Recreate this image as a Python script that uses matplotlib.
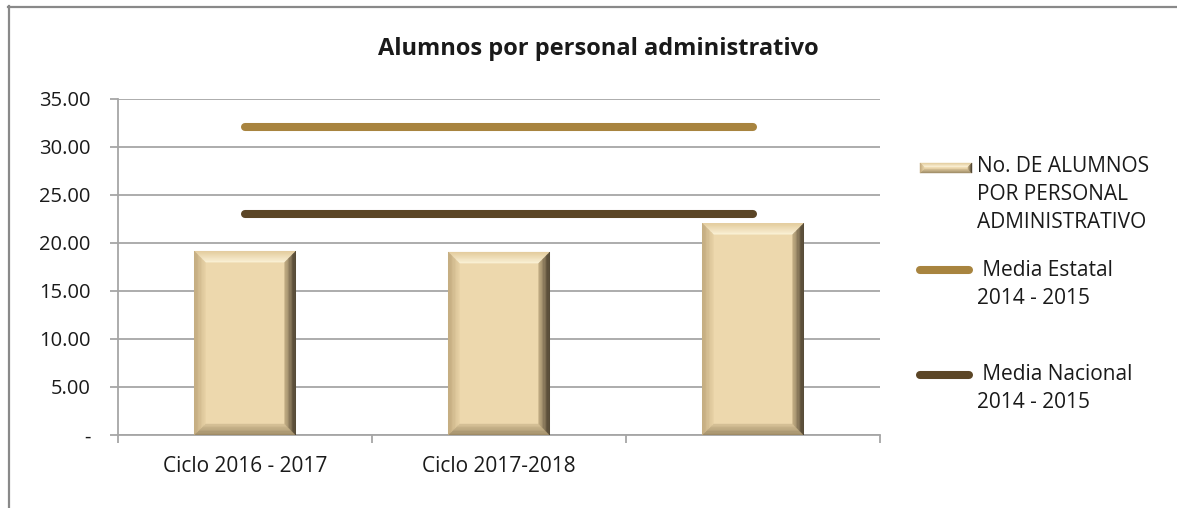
import numpy as np
import matplotlib
matplotlib.use("Agg")
import matplotlib.pyplot as plt
from matplotlib.patches import Polygon
from matplotlib.lines import Line2D
from matplotlib.transforms import IdentityTransform
from matplotlib.colors import to_rgb

plt.rcParams['font.family'] = ['Open Sans', 'DejaVu Sans']

# ---- data ----
categories = ["Ciclo 2016 - 2017", "Ciclo 2017-2018", ""]
alumnos_por_admin = [19.15, 19.05, 22.05]
media_estatal = [32.05, 32.05, 32.05]
media_nacional = [23.05, 23.05, 23.05]
y_ticks = [0, 5, 10, 15, 20, 25, 30, 35]
y_tick_labels = ["-", "5.00", "10.00", "15.00", "20.00", "25.00", "30.00", "35.00"]
legend_labels = [["No. DE ALUMNOS", "POR PERSONAL", "ADMINISTRATIVO"],
                 [" Media Estatal", "2014 - 2015"],
                 [" Media Nacional", "2014 - 2015"]]
title = "Alumnos por personal administrativo"

# ---- styles ----
face_col = "#EDD8AD"
estatal_col = "#A8843F"
nacional_col = "#5B4526"
grid_col = "#A6A6A6"
text_col = "#1a1a1a"
W, H = 1177, 508

fig = plt.figure(figsize=(W / 100, H / 100), dpi=100)
ax = fig.add_axes([118 / W, 1 - 435 / H, (880 - 118) / W, (435 - 99) / H])

x = np.arange(len(categories))
bars = ax.bar(x, alumnos_por_admin, width=0.4, color=face_col, zorder=2)
ax.plot(x, media_estatal, color=estatal_col, lw=5.8, solid_capstyle='round', zorder=3)
ax.plot(x, media_nacional, color=nacional_col, lw=5.8, solid_capstyle='round', zorder=3)

ax.set_xlim(-0.5, len(categories) - 0.5)
ax.set_ylim(0, 35)
ax.set_yticks(y_ticks)
ax.set_yticklabels(y_tick_labels, fontsize=14.5, color=text_col)
ax.yaxis.grid(True, color=grid_col, lw=1.3, zorder=0)
ax.set_axisbelow(True)

# category boundaries carry the tick marks, labels sit at the centres
ax.set_xticks(np.arange(-0.5, len(categories)), labels=[""] * (len(categories) + 1))
ax.set_xticks(x, labels=categories, minor=True)
ax.tick_params(axis='x', which='major', direction='out', length=6, width=1.3, color=grid_col)
ax.tick_params(axis='x', which='minor', length=0, pad=15, labelsize=15, labelcolor=text_col)
ax.tick_params(axis='y', direction='out', length=6, width=1.3, color=grid_col, pad=14)

for side in ["top", "right"]:
    ax.spines[side].set_visible(False)
for side in ["left", "bottom"]:
    ax.spines[side].set_color(grid_col)
    ax.spines[side].set_linewidth(1.3)


def mix(c1, c2, f):
    a, b = np.array(to_rgb(c1)), np.array(to_rgb(c2))
    return tuple(a + (b - a) * f)


def bevel(container, x0, y0, x1, y1, b, n=8, z=4):
    """Draw a bevelled frame inside a display-space rectangle."""
    sides = {
        "top": ("#E2CB9B", "#FBF1D6"),
        "left": ("#BFA67A", "#E6D1A5"),
        "right": ("#3B3223", "#C4AE84"),
        "bottom": ("#9A8763", "#D8C398"),
    }
    for i in range(n):
        t0, t1 = i / n * b, (i + 1) / n * b
        f = (i + 0.5) / n
        polys = {
            "top": [(x0 + t0, y1 - t0), (x1 - t0, y1 - t0), (x1 - t1, y1 - t1), (x0 + t1, y1 - t1)],
            "bottom": [(x0 + t0, y0 + t0), (x1 - t0, y0 + t0), (x1 - t1, y0 + t1), (x0 + t1, y0 + t1)],
            "left": [(x0 + t0, y0 + t0), (x0 + t0, y1 - t0), (x0 + t1, y1 - t1), (x0 + t1, y0 + t1)],
            "right": [(x1 - t0, y0 + t0), (x1 - t0, y1 - t0), (x1 - t1, y1 - t1), (x1 - t1, y0 + t1)],
        }
        for s, pts in polys.items():
            c = mix(sides[s][0], sides[s][1], f)
            p = Polygon(pts, closed=True, facecolor=c, edgecolor=c, lw=0.3,
                        transform=IdentityTransform(), zorder=z)
            container.add_artist(p)


fig.canvas.draw()
for rect in bars:
    (bx0, by0), (bx1, by1) = ax.transData.transform(
        [(rect.get_x(), rect.get_y()), (rect.get_x() + rect.get_width(), rect.get_y() + rect.get_height())])
    bevel(ax, bx0, by0, bx1, by1, b=11)

# ---- title ----
fig.text(598 / W, 1 - 49 / H, title, ha='center', va='center', fontsize=17, fontweight='bold',
         color=text_col)

# ---- legend ----
def fy(py):
    return 1 - py / H


def legend_text(x_px, first_py, lines, step=28):
    for k, line in enumerate(lines):
        fig.text(x_px / W, fy(first_py + k * step), line, ha='left', va='center',
                 fontsize=15, color=text_col)


lg_rect = (920, H - 173, 972, H - 163)
fig.patches.append(Polygon([(lg_rect[0], lg_rect[1]), (lg_rect[2], lg_rect[1]),
                            (lg_rect[2], lg_rect[3]), (lg_rect[0], lg_rect[3])],
                           closed=True, facecolor=face_col, transform=IdentityTransform(), zorder=3))
bevel(fig, *lg_rect, b=4, n=4)
legend_text(977, 166, legend_labels[0])

for col, py, lbl in [(estatal_col, 270, legend_labels[1]), (nacional_col, 375, legend_labels[2])]:
    fig.add_artist(Line2D([920 / W, 969 / W], [fy(py), fy(py)], color=col, lw=5.8,
                          solid_capstyle='round', transform=fig.transFigure))
    legend_text(977, py, lbl)

# ---- outer frame (top and left edges) ----
fig.add_artist(Line2D([8 / W, 1.0], [fy(6.5), fy(6.5)], color="#898989", lw=1.6,
                      transform=fig.transFigure))
fig.add_artist(Line2D([8.5 / W, 8.5 / W], [fy(6), 0], color="#898989", lw=1.6,
                      transform=fig.transFigure))

fig.savefig("out.png", dpi=100)
